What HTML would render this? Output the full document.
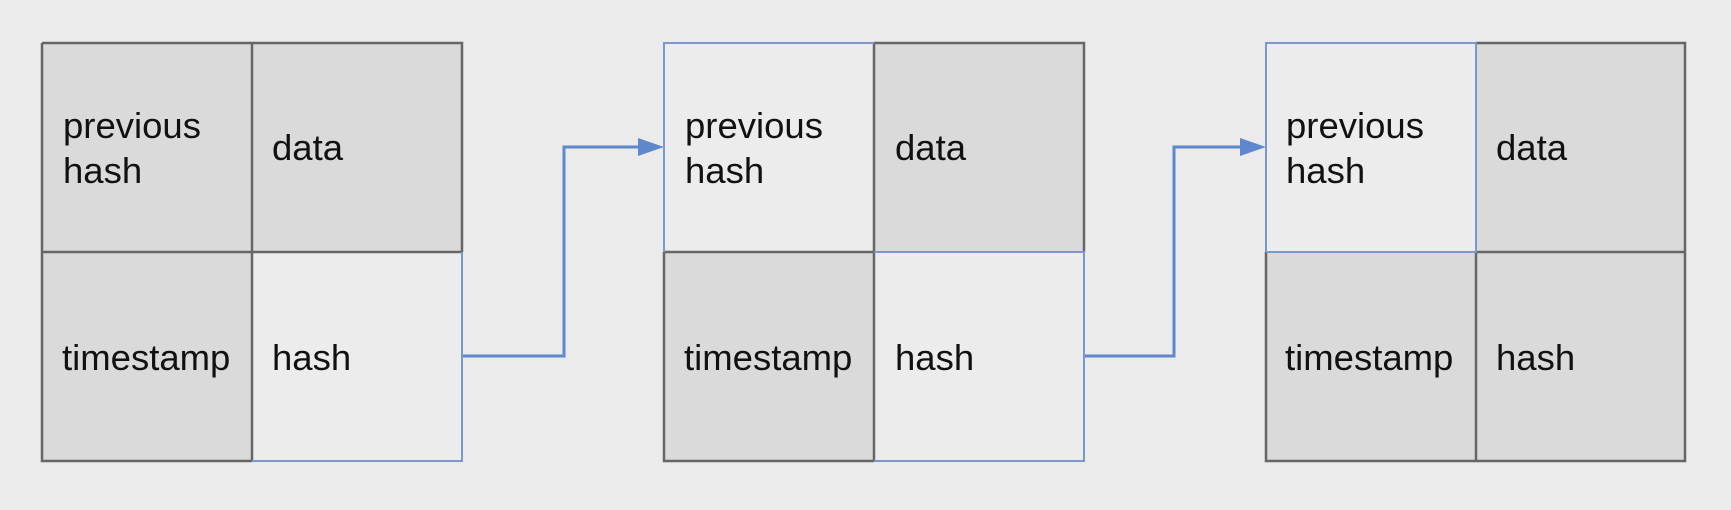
<!DOCTYPE html>
<html><head><style>
html,body{margin:0;padding:0;background:#ebebeb;}
svg{display:block}
text{font-family:"Liberation Sans",sans-serif;font-size:36.5px;fill:#111;}
</style></head><body>
<svg width="1731" height="510" viewBox="0 0 1731 510">
<rect width="1731" height="510" fill="#ebebeb"/>
<!-- Box 1 -->
<rect x="42" y="43" width="210" height="209" fill="#dadada"/>
<rect x="252" y="43" width="210" height="209" fill="#dadada"/>
<rect x="42" y="252" width="210" height="209" fill="#dadada"/>
<rect x="252" y="252" width="210" height="209" fill="#ececec"/>
<g stroke="#666" stroke-width="2.5" fill="none">
<path d="M42 43H462V252M42 43V461H252M252 43V461M42 252H462"/>
</g>
<g stroke="#7b98cc" stroke-width="2" fill="none"><path d="M462 252V461H252"/></g>
<!-- Box 2 -->
<rect x="664" y="43" width="210" height="209" fill="#ececec"/>
<rect x="874" y="43" width="210" height="209" fill="#dadada"/>
<rect x="664" y="252" width="210" height="209" fill="#dadada"/>
<rect x="874" y="252" width="210" height="209" fill="#ececec"/>
<g stroke="#666" stroke-width="2.5" fill="none">
<path d="M874 43H1084V252M664 252V461H874M874 43V461M664 252H874"/>
</g>
<g stroke="#7b98cc" stroke-width="2" fill="none"><path d="M664 252V43H874M874 252H1084V461H874"/></g>
<!-- Box 3 -->
<rect x="1266" y="43" width="210" height="209" fill="#ececec"/>
<rect x="1476" y="43" width="209" height="209" fill="#dadada"/>
<rect x="1266" y="252" width="210" height="209" fill="#dadada"/>
<rect x="1476" y="252" width="209" height="209" fill="#dadada"/>
<g stroke="#666" stroke-width="2.5" fill="none">
<path d="M1476 43H1685V461H1266V252M1476 252V461M1476 252H1685"/>
</g>
<g stroke="#7b98cc" stroke-width="2" fill="none"><path d="M1266 252V43H1476V252H1266"/></g>
<!-- Arrows -->
<g stroke="#5f87cc" stroke-width="3" fill="none">
<path d="M463 356H564V147H640"/>
<path d="M1085 356H1174V147H1243"/>
</g>
<polygon points="638,138 664,147 638,156" fill="#5f87cc"/>
<polygon points="1240,138 1266,147 1240,156" fill="#5f87cc"/>
<!-- Text -->
<text x="63" y="138">previous</text><text x="63" y="183">hash</text>
<text x="272" y="160">data</text>
<text x="62" y="370">timestamp</text>
<text x="272" y="370">hash</text>
<text x="685" y="138">previous</text><text x="685" y="183">hash</text>
<text x="895" y="160">data</text>
<text x="684" y="370">timestamp</text>
<text x="895" y="370">hash</text>
<text x="1286" y="138">previous</text><text x="1286" y="183">hash</text>
<text x="1496" y="160">data</text>
<text x="1285" y="370">timestamp</text>
<text x="1496" y="370">hash</text>
</svg>
</body></html>
